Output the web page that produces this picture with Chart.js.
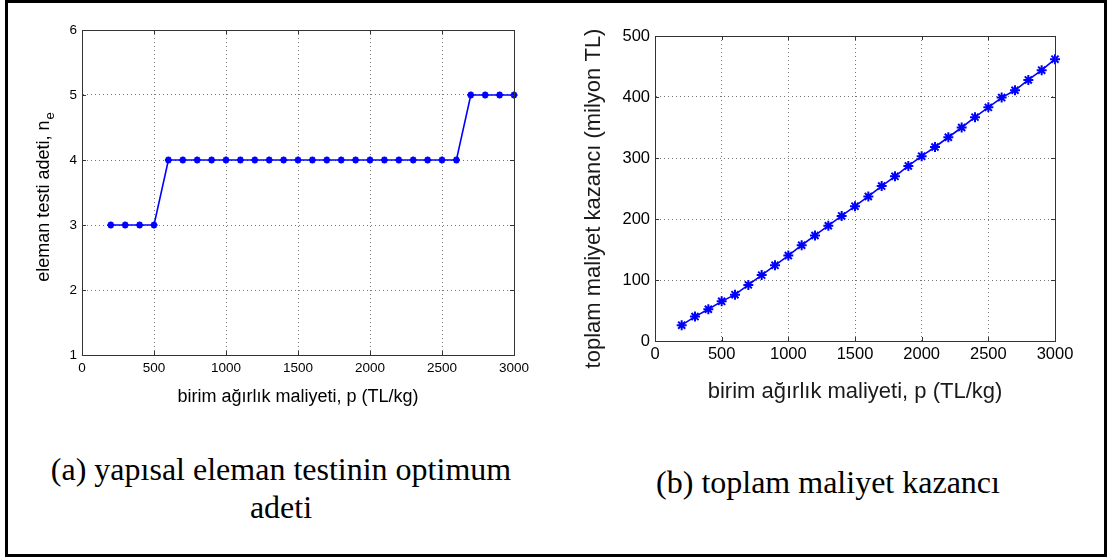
<!DOCTYPE html>
<html>
<head>
<meta charset="utf-8">
<script src="https://cdn.jsdelivr.net/npm/chart.js@4/dist/chart.umd.min.js"></script>
<style>
    body { margin: 0; background: #fff; width: 1107px; height: 558px; position: relative; overflow: hidden; }
    #frame { position: absolute; left: 5px; top: 0; width: 1102px; height: 557px; box-sizing: border-box; border: 3px solid #000; }
    .box { position: absolute; top: 8px; width: 530px; height: 412px; }
    .cap { position: absolute; font-family: "Liberation Serif", "Times New Roman", serif; font-size: 32px; line-height: 38px;
           color: #000; text-align: center; white-space: nowrap; }
</style>
</head>
<body>
<div id="frame"></div>
<div class="box" style="left:10px"><canvas id="chartA"></canvas></div>
<div class="box" style="left:560px"><canvas id="chartB"></canvas></div>
<div class="cap" style="left:31px; top:450px; width:500px">(a) yapısal eleman testinin optimum<br>adeti</div>
<div class="cap" style="left:578px; top:463px; width:500px">(b) toplam maliyet kazancı</div>

<script>
// birim ağırlık maliyeti p (TL/kg)
const unitCost = [200, 300, 400, 500, 600, 700, 800, 900, 1000, 1100, 1200, 1300, 1400, 1500,
    1600, 1700, 1800, 1900, 2000, 2100, 2200, 2300, 2400, 2500, 2600, 2700, 2800, 2900, 3000];
// (a) optimum eleman testi adeti n_e
const testCount = [3, 3, 3, 3, 4, 4, 4, 4, 4, 4, 4, 4, 4, 4,
    4, 4, 4, 4, 4, 4, 4, 4, 4, 4, 4, 5, 5, 5, 5];
// (b) toplam maliyet kazancı (milyon TL)
const costSaving = [26, 40, 52, 65, 76, 92, 108, 124, 140, 157, 173, 189, 205, 221,
    237, 254, 270, 287, 303, 318, 334, 350, 367, 383, 399, 411, 428, 444, 462];

const xTicks = [0, 500, 1000, 1500, 2000, 2500, 3000];
const yTicksA = [1, 2, 3, 4, 5, 6];
const yTicksB = [0, 100, 200, 300, 400, 500];

const FONT = '"Liberation Sans", Arial, Helvetica, sans-serif';

// box, inward tick marks and axis titles (MATLAB look)
const axisDecor = {
    id: 'axisDecor',
    afterDraw(chart, args, o) {
        const { ctx, chartArea: a, scales: { x, y } } = chart;
        ctx.save();
        ctx.strokeStyle = '#333';
        ctx.lineWidth = 1;
        ctx.strokeRect(Math.round(a.left) + 0.5, Math.round(a.top) + 0.5,
            Math.round(a.right - a.left), Math.round(a.bottom - a.top));
        ctx.beginPath();
        x.ticks.forEach(t => {
            const px = Math.round(x.getPixelForValue(t.value)) + 0.5;
            ctx.moveTo(px, a.bottom); ctx.lineTo(px, a.bottom - 4);
            ctx.moveTo(px, a.top); ctx.lineTo(px, a.top + 4);
        });
        y.ticks.forEach(t => {
            const py = Math.round(y.getPixelForValue(t.value)) + 0.5;
            ctx.moveTo(a.left, py); ctx.lineTo(a.left + 4, py);
            ctx.moveTo(a.right, py); ctx.lineTo(a.right - 4, py);
        });
        ctx.stroke();

        ctx.fillStyle = o.color;
        ctx.textBaseline = 'alphabetic';
        ctx.textAlign = 'center';
        ctx.font = o.titleSize + 'px ' + FONT;
        ctx.fillText(o.xTitle, (a.left + a.right) / 2, o.xTitleY);

        ctx.translate(o.yTitleX, (a.top + a.bottom) / 2 + o.yShift);
        ctx.rotate(-Math.PI / 2);
        ctx.textAlign = 'left';
        ctx.font = o.yTitleSize + 'px ' + FONT;
        const w = ctx.measureText(o.yTitle).width;
        let ws = 0;
        const subFont = Math.round(o.yTitleSize * 0.7) + 'px ' + FONT;
        if (o.ySub) {
            ctx.font = subFont;
            ws = ctx.measureText(o.ySub).width;
            ctx.font = o.yTitleSize + 'px ' + FONT;
        }
        const start = -(w + ws) / 2;
        ctx.fillText(o.yTitle, start, 0);
        if (o.ySub) {
            ctx.font = subFont;
            ctx.fillText(o.ySub, start + w + 1, o.yTitleSize * 0.25);
        }
        ctx.restore();
    }
};

function makeChart(id, ys, yTicks, s) {
    const ctx = document.getElementById(id).getContext('2d');
    const tickFont = { family: FONT, size: s.tickSize };
    return new Chart(ctx, {
        type: 'line',
        data: {
            datasets: [{
                data: unitCost.map((p, i) => ({ x: p, y: ys[i] })),
                borderColor: '#0000ff',
                borderWidth: 1.6,
                pointStyle: 'star',
                pointRadius: s.markerSize,
                pointBorderColor: '#0000ff',
                pointBorderWidth: 2,
                tension: 0,
                fill: false,
                clip: false
            }]
        },
        options: {
            responsive: true,
            maintainAspectRatio: false,
            animation: false,
            layout: { padding: s.padding },
            plugins: {
                legend: { display: false },
                tooltip: { enabled: false },
                axisDecor: s.decor
            },
            scales: {
                x: {
                    type: 'linear',
                    min: xTicks[0],
                    max: xTicks[xTicks.length - 1],
                    afterBuildTicks: sc => { sc.ticks = xTicks.map(v => ({ value: v })); },
                    afterFit: sc => { sc.height = s.xAxisHeight; },
                    ticks: { color: '#000', font: tickFont, padding: s.xTickPad, maxRotation: 0, callback: v => String(v) },
                    grid: { color: '#777', drawTicks: false },
                    border: { color: '#333', dash: [1, 3] }
                },
                y: {
                    type: 'linear',
                    min: yTicks[0],
                    max: yTicks[yTicks.length - 1],
                    afterBuildTicks: sc => { sc.ticks = yTicks.map(v => ({ value: v })); },
                    afterFit: sc => { sc.width = s.yAxisWidth; },
                    ticks: { color: '#000', font: tickFont, padding: 5, callback: v => String(v) },
                    grid: { color: '#777', drawTicks: false },
                    border: { color: '#333', dash: [1, 3] }
                }
            }
        },
        plugins: [axisDecor]
    });
}

makeChart('chartA', testCount, yTicksA, {
    tickSize: 13.5,
    markerSize: 3.5,
    padding: { top: 22, right: 26, left: 0, bottom: 0 },
    xAxisHeight: 65,
    yAxisWidth: 72,
    xTickPad: 5,
    decor: {
        color: '#000',
        titleSize: 18,
        yTitleSize: 18,
        xTitle: 'birim ağırlık maliyeti, p (TL/kg)',
        xTitleY: 394,
        yTitle: 'eleman testi adeti, n',
        ySub: 'e',
        yTitleX: 39,
        yShift: 5
    }
});

makeChart('chartB', costSaving, yTicksB, {
    tickSize: 16.5,
    markerSize: 5,
    padding: { top: 28, right: 35, left: 0, bottom: 0 },
    xAxisHeight: 79,
    yAxisWidth: 95,
    xTickPad: 4,
    decor: {
        color: '#1a1a1a',
        titleSize: 22,
        yTitleSize: 22,
        xTitle: 'birim ağırlık maliyeti, p (TL/kg)',
        xTitleY: 390,
        yTitle: 'toplam maliyet kazancı (milyon TL)',
        ySub: '',
        yTitleX: 40,
        yShift: 10
    }
});
</script>
</body>
</html>
